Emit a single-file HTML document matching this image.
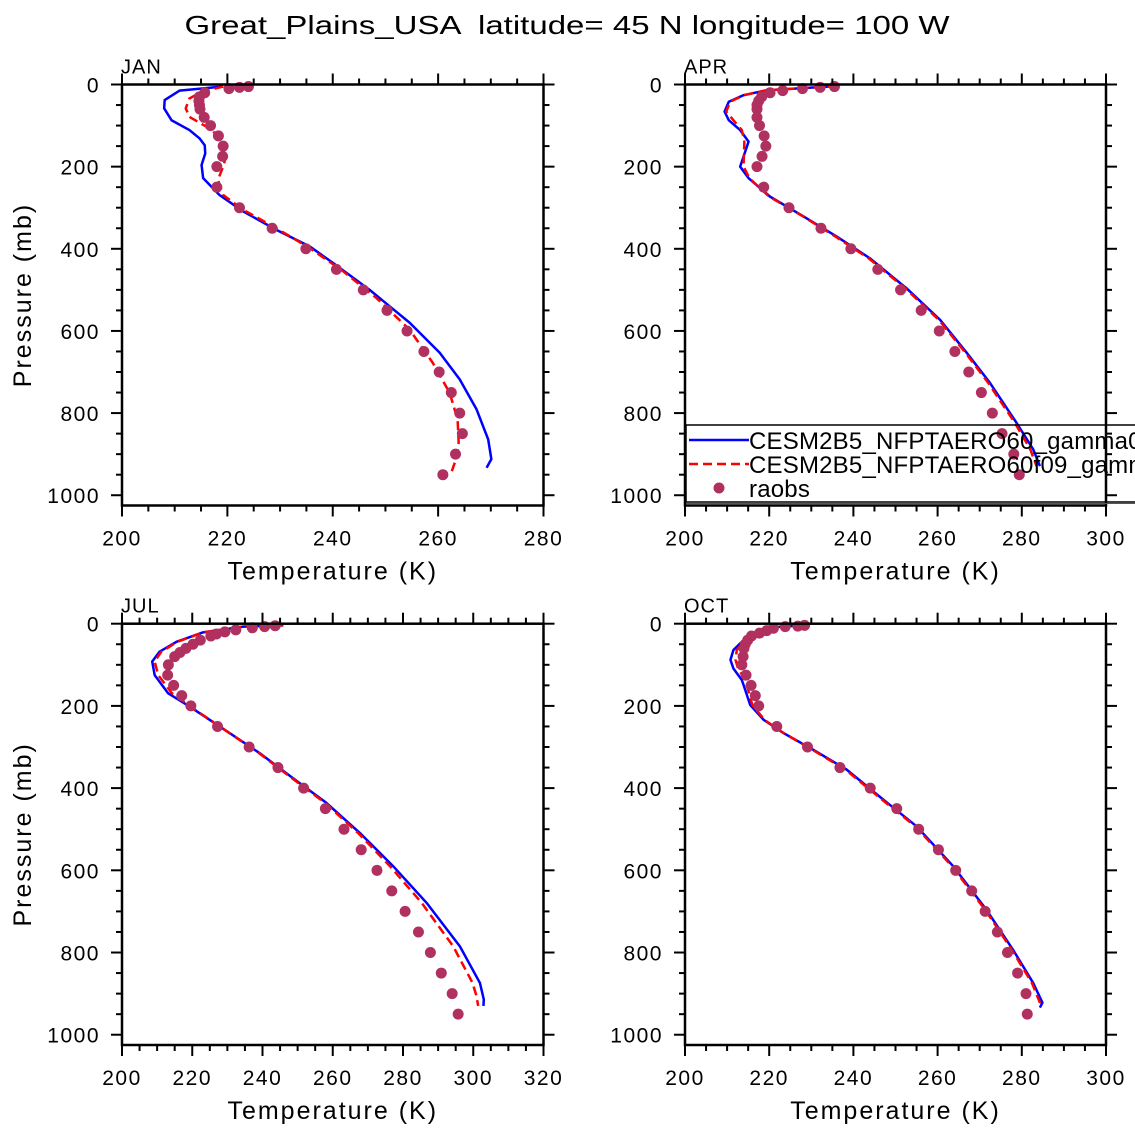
<!DOCTYPE html>
<html><head><meta charset="utf-8"><style>
html,body{margin:0;padding:0;background:#fff;}
svg{display:block;font-family:"Liberation Sans",sans-serif;}
</style></head><body>
<svg id="chart" xmlns="http://www.w3.org/2000/svg" width="1135" height="1135" viewBox="0 0 1135 1135">
<text x="567" y="34" font-size="26" text-anchor="middle" textLength="765" lengthAdjust="spacingAndGlyphs" fill="#000" style="white-space:pre">Great_Plains_USA  latitude= 45 N longitude= 100 W</text>
</svg>
<script>
// ---- data ----
const janObsP = [5,7,10,20,30,40,50,60,80,100,125,150,175,200,250,300,350,400,450,500,550,600,650,700,750,800,850,900,950];
const janObsT = [224.0,222.3,220.3,215.7,214.7,214.6,214.7,214.8,215.6,216.8,218.3,219.2,219.1,218.0,218.0,222.3,228.5,234.9,240.7,245.8,250.3,254.1,257.3,260.2,262.5,264.1,264.6,263.3,260.9];
const janBlueP = [5,15,38,58,87,111,131,148,168,196,228,269,309,354,394,435,500,580,653,718,791,864,912,933];
const janBlueT = [219.2,210.9,208.1,208.0,209.4,212.8,214.7,215.7,215.8,215.1,215.4,218.5,223.0,229.3,235.6,240.1,247.0,254.6,260.3,264.1,267.3,269.5,270.1,269.2];
const janRedP = [5,18,34,58,79,107,136,168,200,232,269,305,350,398,455,520,597,678,751,816,872,912,945];
const janRedT = [219.2,215.1,212.8,212.1,212.8,216.6,219.2,219.9,219.2,218.2,219.2,223.0,229.3,235.6,242.0,248.3,254.6,259.0,262.2,263.7,263.9,263.4,262.5];

const aprObsP = [5,7,10,15,20,30,40,50,60,80,100,125,150,175,200,250,300,350,400,450,500,550,600,650,700,750,800,850,900,950];
const aprObsT = [235.5,232.1,227.9,223.2,220.2,218.2,217.5,217.1,217.1,217.1,217.7,218.8,219.2,218.3,217.1,218.7,224.7,232.3,239.4,245.8,251.2,256.1,260.4,264.1,267.4,270.4,273.0,275.3,278.1,279.4];
const aprBlueP = [4,14,26,42,66,87,111,139,200,228,273,321,370,423,496,573,653,726,823,888,929];
const aprBlueT = [236.0,219.4,213.9,210.4,209.4,210.4,213.1,215.1,213.1,215.1,220.2,228.1,236.0,243.9,252.6,260.6,266.9,272.4,278.7,282.7,284.3];
const aprRedP = [4,14,26,42,66,87,111,139,200,228,273,321,370,423,496,573,653,726,823,888,929];
const aprRedT = [236.0,219.4,214.0,210.7,209.8,211.5,213.5,214.1,213.9,215.3,220.0,228.0,235.7,243.6,252.3,260.3,266.6,272.0,278.3,282.0,283.5];

const julObsP = [5,7,10,15,20,25,30,40,50,60,70,80,100,125,150,175,200,250,300,350,400,450,500,550,600,650,700,750,800,850,900,950];
const julObsT = [243.6,240.6,237.1,232.4,229.3,226.9,225.3,222.3,220.2,218.2,216.5,215.0,213.2,213.0,214.7,217.0,219.6,227.2,236.2,244.4,251.7,257.9,263.2,268.1,272.6,276.8,280.6,284.4,287.8,290.9,294.0,295.7];
const julBlueP = [4,7,21,44,68,92,125,169,202,250,315,376,436,509,590,679,785,874,914,930];
const julBlueT = [245.9,234.5,223.1,215.5,210.7,208.6,209.3,213.1,219.3,227.8,239.2,248.7,258.2,267.7,277.2,286.7,296.2,301.9,303.0,302.9];
const julRedP = [4,7,21,44,68,92,125,169,202,250,315,376,436,509,590,679,785,874,905,930];
const julRedT = [245.9,234.5,223.1,215.8,211.2,209.3,210.3,214.2,219.6,227.8,239.0,248.4,257.8,267.2,276.3,285.3,294.3,299.8,300.9,301.4];

const octObsP = [4,6,7,11,17,23,30,40,50,60,80,100,125,150,175,200,250,300,350,400,450,500,550,600,650,700,750,800,850,900,950];
const octObsT = [228.4,226.8,223.8,221.0,219.4,217.7,215.8,214.9,214.3,214.0,213.8,213.5,214.5,215.7,216.7,217.5,221.8,229.1,236.8,244.0,250.3,255.5,260.2,264.3,268.1,271.3,274.2,276.6,279.0,281.0,281.3];
const octBlueP = [4,9,32,64,88,109,137,161,198,234,266,307,355,428,493,590,696,793,874,922,934];
const octBlueT = [228.1,220.2,214.7,211.5,210.8,211.5,213.5,214.3,215.5,218.7,223.4,230.5,238.4,247.1,255.0,263.7,271.6,277.9,282.7,284.9,284.3];
const octRedP = [4,9,32,64,88,109,137,161,198,234,266,307,355,428,493,590,696,793,874,922,934];
const octRedT = [228.1,220.2,215.0,212.3,212.0,212.6,214.3,215.0,216.0,218.9,223.4,230.3,238.1,246.8,254.7,263.4,271.3,277.6,282.4,284.3,283.9];

const xTicksA = [200,220,240,260,280];
const xTicksB = [200,220,240,260,280,300];
const xTicksC = [200,220,240,260,280,300,320];
const yTicks = [0,200,400,600,800,1000];

// ---- drawing ----
const svg = document.getElementById('chart');
const NS = 'http://www.w3.org/2000/svg';
function mk(tag, attrs, parent){
  const e = document.createElementNS(NS, tag);
  for (const k in attrs) e.setAttribute(k, attrs[k]);
  (parent||svg).appendChild(e);
  return e;
}
function panel(name, L, R, T, B, xmin, xmax, xticks, obsP, obsT, bP, bT, rP, rT){
  const pmax = 1025;
  const g = mk('g', {});
  
  
  const sx = t => L + (t - xmin) / (xmax - xmin) * (R - L);
  const sy = p => T + p / pmax * (B - T);
  const cid = 'clip-' + name;
  const cp = mk('clipPath', {id: cid}, g);
  mk('rect', {x: L, y: T, width: R - L, height: B - T}, cp);
  const bl = mk('polyline', {points: bP.map((p,i)=>sx(bT[i])+','+sy(p)).join(' '), fill:'none', stroke:'#0000ff', 'stroke-width':2.5, 'stroke-linejoin':'round', 'clip-path':'url(#'+cid+')'}, g);
  
  
  const rl = mk('polyline', {points: rP.map((p,i)=>sx(rT[i])+','+sy(p)).join(' '), fill:'none', stroke:'#ff0000', 'stroke-width':2.5, 'stroke-dasharray':'9,5', 'clip-path':'url(#'+cid+')'}, g);
  
  
  obsP.forEach((p,i)=>{
    const c = mk('circle', {cx: sx(obsT[i]), cy: sy(p), r: 5.5, fill:'#b03060'}, g);
    
    
  });
  const fr = mk('rect', {x:L, y:T, width:R-L, height:B-T, fill:'none', stroke:'#000', 'stroke-width':2.5}, g);
  
  
  for (let t = xmin; t <= xmax + 0.01; t += 5){
    const major = (t - xmin) % 20 === 0;
    const len = major ? 11 : 6;
    const x = sx(t);
    mk('line', {x1:x, x2:x, y1:T, y2:T-len, stroke:'#000', 'stroke-width':2}, g);
    mk('line', {x1:x, x2:x, y1:B, y2:B+len, stroke:'#000', 'stroke-width':2}, g);
  }
  xticks.forEach(t=>{
    const tx = mk('text', {x: sx(t), y: B + 40, 'font-size': 21, 'text-anchor':'middle', 'letter-spacing':'1.5'}, g);
    
    
    tx.textContent = t;
  });
  for (let p = 0; p <= 1000; p += 50){
    const major = p % 200 === 0;
    const len = major ? 11 : 6;
    const y = sy(p);
    mk('line', {x1:L, x2:L-len, y1:y, y2:y, stroke:'#000', 'stroke-width':2}, g);
    mk('line', {x1:R, x2:R+len, y1:y, y2:y, stroke:'#000', 'stroke-width':2}, g);
  }
  yTicks.forEach(p=>{
    const tx = mk('text', {x: L - 22, y: sy(p) + 8, 'font-size': 21, 'text-anchor':'end', 'letter-spacing':'1.5'}, g);
    
    
    tx.textContent = p;
  });
  const xt = mk('text', {x: (L+R)/2, y: B + 74, 'font-size': 25, 'text-anchor':'middle', 'letter-spacing':'2'}, g);
  
  
  xt.textContent = 'Temperature (K)';
  if (L < 300){
    const cy = (T+B)/2;
    const yt = mk('text', {x: 31, y: cy, 'font-size': 25, 'text-anchor':'middle', 'letter-spacing':'2', transform:'rotate(-90 31 '+cy+')'}, g);
    
    
    yt.textContent = 'Pressure (mb)';
  }
  const lb = mk('text', {x: L - 1, y: T - 11, 'font-size': 20, 'letter-spacing':'1'}, g);
  
  
  lb.textContent = name.toUpperCase();
}
panel('jan', 122, 543.5, 84.5, 505.5, 200, 280, xTicksA, janObsP, janObsT, janBlueP, janBlueT, janRedP, janRedT);
panel('apr', 685, 1106, 84.5, 505.5, 200, 300, xTicksB, aprObsP, aprObsT, aprBlueP, aprBlueT, aprRedP, aprRedT);
panel('jul', 122, 543.5, 623.7, 1045, 200, 320, xTicksC, julObsP, julObsT, julBlueP, julBlueT, julRedP, julRedT);
panel('oct', 685, 1106, 623.7, 1045, 200, 300, xTicksB, octObsP, octObsT, octBlueP, octBlueT, octRedP, octRedT);

// legend
const lg = mk('g', {});


mk('rect', {x:686, y:425, width:470, height:77, fill:'none', stroke:'#000', 'stroke-width':1.5}, lg);
mk('line', {x1:686, x2:1135, y1:503.5, y2:503.5, stroke:'#555', 'stroke-width':1}, lg);
const e1 = mk('line', {x1:689, x2:749, y1:440, y2:440, stroke:'#0000ff', 'stroke-width':2.5}, lg);


const t1 = mk('text', {x:749, y:449, 'font-size':24, 'letter-spacing':'0.2'}, lg);


t1.textContent = 'CESM2B5_NFPTAERO60_gamma0';
const e2 = mk('line', {x1:689, x2:749, y1:464, y2:464, stroke:'#ff0000', 'stroke-width':2.5, 'stroke-dasharray':'9,5'}, lg);


const t2 = mk('text', {x:749, y:473, 'font-size':24, 'letter-spacing':'0.2'}, lg);


t2.textContent = 'CESM2B5_NFPTAERO60f09_gamma0';
const e3 = mk('circle', {cx:719, cy:488, r:5.5, fill:'#b03060'}, lg);


const t3 = mk('text', {x:749, y:497, 'font-size':24, 'letter-spacing':'0.2'}, lg);


t3.textContent = 'raobs';
</script>
</body></html>
